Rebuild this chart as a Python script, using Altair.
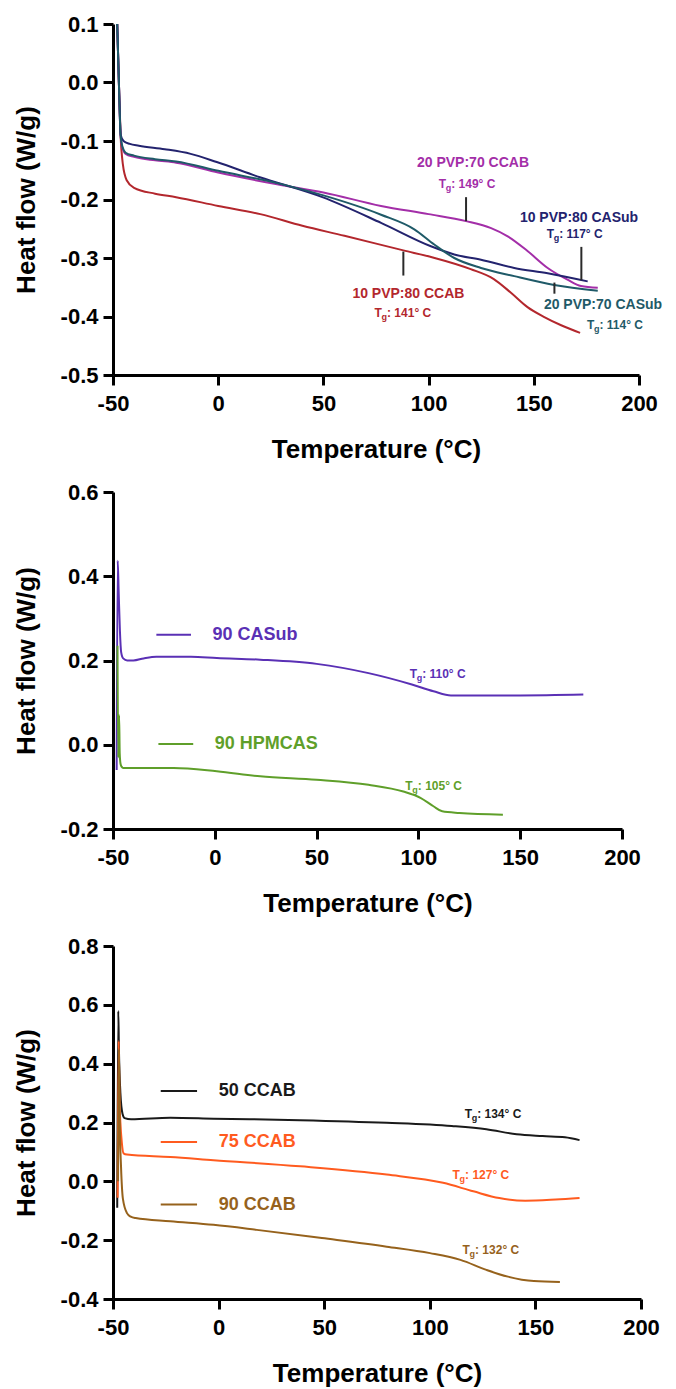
import altair as alt
import pandas as pd

FONT = "Liberation Sans"

# ---------------- Panel 1 data ----------------
p1_names = ["10 PVP:80 CCAB", "20 PVP:70 CCAB", "10 PVP:80 CASub", "20 PVP:70 CASub"]
p1_colors = ["#b3272d", "#a32ea8", "#23236e", "#1f5a68"]
red_x = [-48.0, -47.2, -46.4, -45.3, -43.5, -40, -30, -20, 0, 20, 40, 60, 88, 102, 120, 131, 139, 147, 155, 163, 172]
red_y = [0.1, 0.0, -0.09, -0.14, -0.167, -0.18, -0.19, -0.196, -0.211, -0.225, -0.245, -0.262, -0.287, -0.299, -0.319, -0.336, -0.359, -0.384, -0.401, -0.415, -0.428]
mag_x = [-48.0, -47.2, -46.4, -45.5, -44, -40, -30, -20, 0, 28, 50, 77.4, 100, 117.8, 129.7, 137.6, 147, 156.6, 166, 172.4, 180.4]
mag_y = [0.1, 0.0, -0.09, -0.112, -0.122, -0.127, -0.133, -0.137, -0.154, -0.174, -0.188, -0.211, -0.225, -0.237, -0.249, -0.263, -0.288, -0.317, -0.337, -0.348, -0.351]
navy_x = [-48.0, -47.2, -46.3, -45, -42, -37.7, -25.4, -13.1, -0.7, 19.8, 49.5, 77.4, 101.1, 112.2, 124.9, 140.7, 156.6, 175.6]
navy_y = [0.1, 0.0, -0.09, -0.1, -0.105, -0.108, -0.114, -0.122, -0.136, -0.162, -0.196, -0.24, -0.28, -0.294, -0.303, -0.317, -0.326, -0.34]
teal_x = [-48.0, -47.2, -46.4, -45.5, -44, -40, -30, -20, 0, 28, 50, 77.4, 93.2, 102.7, 112.2, 124.9, 140.7, 159.7, 180.4]
teal_y = [0.1, 0.0, -0.09, -0.11, -0.12, -0.125, -0.131, -0.135, -0.151, -0.172, -0.193, -0.226, -0.251, -0.277, -0.30, -0.317, -0.331, -0.346, -0.356]

p1_label_x = [121.1, 171.5, 90.4, 182.9]
p1_label_y = [-0.138, -0.231, -0.361, -0.381]
p1_label_text = ["20 PVP:70 CCAB", "10 PVP:80 CASub", "10 PVP:80 CCAB", "20 PVP:70 CASub"]
p1_label_col = ["#a32ea8", "#23236e", "#b3272d", "#1f5a68"]
p1_tg_x = [104.8, 156.1, 74.3, 175.3]
p1_tg_y = [-0.173, -0.259, -0.394, -0.414]
p1_tg_val = ["149", "117", "141", "114"]
p1_rule_x = [117.8, 172.6, 88.0, 159.8]
p1_rule_y1 = [-0.196, -0.281, -0.289, -0.342]
p1_rule_y2 = [-0.237, -0.338, -0.330, -0.361]

# ---------------- Panel 2 data ----------------
casub_x = [-48.2, -47.7, -47.2, -46.6, -46.0, -45.0, -43, -40, -35, -28.7, -11.7, 1, 22.3, 50, 75.5, 96.8, 107.4, 116, 128.7, 150, 181]
casub_y = [-0.06, 0.437, 0.36, 0.27, 0.22, 0.205, 0.2, 0.2, 0.205, 0.209, 0.209, 0.206, 0.202, 0.192, 0.17, 0.143, 0.127, 0.117, 0.117, 0.117, 0.119]
hpm_x = [-47.8, -47.4, -47.0, -46.7, -46.3, -45.8, -45, -41.5, -20.2, 1, 22.3, 50, 75.5, 92.6, 101, 107.4, 111.7, 120.2, 141.5]
hpm_y = [0.235, -0.03, 0.07, -0.02, -0.045, -0.052, -0.055, -0.055, -0.055, -0.063, -0.075, -0.083, -0.095, -0.111, -0.126, -0.146, -0.158, -0.162, -0.166]
p2_colors = ["#5a30b5", "#5f9f2a"]
p2_leg_text = ["90 CASub", "90 HPMCAS"]
p2_leg_x1 = [-28.7, -27.7]
p2_leg_x2 = [-11.7, -10.6]
p2_leg_y = [0.261, 0.002]
p2_leg_tx = [-1.1, 0.0]
p2_tg_x = [95.7, 93.6]
p2_tg_y = [0.168, -0.099]
p2_tg_val = ["110", "105"]

# ---------------- Panel 3 data ----------------
blk_x = [-48.0, -47.5, -47.2, -46.5, -45.5, -44.5, -41.4, -22.9, -2.4, 38.6, 79.6, 110.4, 126.8, 141.1, 153.4, 164, 170.9]
blk_y = [-0.09, 0.579, 0.45, 0.3, 0.23, 0.215, 0.211, 0.216, 0.213, 0.208, 0.199, 0.188, 0.177, 0.160, 0.154, 0.15, 0.140]
org_x = [-47.8, -47.3, -47.0, -46.5, -45.8, -45.0, -43.4, -22.9, -2.4, 38.6, 79.6, 106.3, 120.6, 132.9, 145.2, 159.6, 170.9]
org_y = [-0.056, 0.477, 0.3, 0.2, 0.13, 0.095, 0.091, 0.083, 0.072, 0.051, 0.023, -0.005, -0.034, -0.057, -0.066, -0.062, -0.057]
brn_x = [-47.6, -47.2, -46.8, -46.2, -45.3, -43.4, -41.6, -39.3, -22.9, -2.4, 18.1, 48.9, 79.6, 100.1, 114.5, 126.8, 137, 149.3, 161.6]
brn_y = [0.0, 0.45, 0.2, 0.05, -0.06, -0.108, -0.12, -0.125, -0.136, -0.148, -0.165, -0.193, -0.222, -0.244, -0.267, -0.301, -0.324, -0.339, -0.342]
p3_colors = ["#1a1a1a", "#ff5b1f", "#96621c"]
p3_leg_text = ["50 CCAB", "75 CCAB", "90 CCAB"]
p3_leg_x1 = [-27.4, -27.4, -27.4]
p3_leg_x2 = [-10.2, -10.2, -10.2]
p3_leg_y = [0.307, 0.134, -0.079]
p3_leg_tx = [0.04, 0.04, 0.04]
p3_tg_x = [116.5, 110.8, 115.5]
p3_tg_y = [0.228, 0.020, -0.233]
p3_tg_val = ["134", "127", "132"]

x_ticks = [-50, 0, 50, 100, 150, 200]
LBL = "(datum.value < 0 ? '-' : '') + format(abs(datum.value), '%s')"


def curves_df(xs, ys, names, cols):
    rows = []
    for xv, yv, n, c in zip(xs, ys, names, cols):
        for i, (a, b) in enumerate(zip(xv, yv)):
            rows.append({"x": a, "y": b, "s": n, "col": c, "i": i})
    return pd.DataFrame(rows)


def enc_x(field):
    return alt.X(field + ":Q", scale=alt.Scale(domain=[-50, 200], nice=False, zero=False),
                 axis=alt.Axis(values=x_ticks, title="Temperature (°C)", labelExpr=LBL % "d",
                               labelFlush=False, labelOverlap=False, labelPadding=8, titlePadding=22))


def enc_y(field, ydom, yvals):
    return alt.Y(field + ":Q", scale=alt.Scale(domain=ydom, nice=False, zero=False),
                 axis=alt.Axis(values=yvals, title="Heat flow (W/g)", labelExpr=LBL % ".1f",
                               labelFlush=False, labelOverlap=False, labelPadding=5, titlePadding=21))


def tg_layers(tx, ty, tv, tc, ydom, yvals):
    df = pd.DataFrame({"x": tx, "y": ty, "v": [": " + v + "° C" for v in tv], "col": tc})
    common = dict(font=FONT, fontWeight="bold", align="left", baseline="middle")
    t1 = alt.Chart(df).mark_text(fontSize=12, **common).encode(
        x=enc_x("x"), y=enc_y("y", ydom, yvals), color=alt.Color("col:N", scale=None), text=alt.value("T"))
    t2 = alt.Chart(df).mark_text(fontSize=9, dx=7, dy=4, **common).encode(
        x=enc_x("x"), y=enc_y("y", ydom, yvals), color=alt.Color("col:N", scale=None), text=alt.value("g"))
    t3 = alt.Chart(df).mark_text(fontSize=12, dx=12.5, **common).encode(
        x=enc_x("x"), y=enc_y("y", ydom, yvals), color=alt.Color("col:N", scale=None), text="v:N")
    return [t1, t2, t3]


def line_layer(df, ydom, yvals):
    return alt.Chart(df).mark_line(strokeWidth=2, interpolate="monotone").encode(
        x=enc_x("x"), y=enc_y("y", ydom, yvals), color=alt.Color("col:N", scale=None),
        detail="s:N", order="i:Q")


# Panel 1
yd1, yv1 = [-0.5, 0.1], [-0.5, -0.4, -0.3, -0.2, -0.1, 0.0, 0.1]
df1 = curves_df([red_x, mag_x, navy_x, teal_x], [red_y, mag_y, navy_y, teal_y], p1_names, p1_colors)
lab1 = pd.DataFrame({"x": p1_label_x, "y": p1_label_y, "t": p1_label_text, "col": p1_label_col})
rule1 = pd.DataFrame({"x": p1_rule_x, "y": p1_rule_y1, "y2": p1_rule_y2})
p1 = alt.layer(
    line_layer(df1, yd1, yv1),
    alt.Chart(rule1).mark_rule(strokeWidth=2, color="#2a2a2a").encode(
        x=enc_x("x"), y=enc_y("y", yd1, yv1), y2="y2:Q"),
    alt.Chart(lab1).mark_text(font=FONT, fontWeight="bold", fontSize=14, align="center", baseline="middle").encode(
        x=enc_x("x"), y=enc_y("y", yd1, yv1), color=alt.Color("col:N", scale=None), text="t:N"),
    *tg_layers(p1_tg_x, p1_tg_y, p1_tg_val, p1_label_col, yd1, yv1),
).properties(width=526, height=351)

# Panel 2
yd2, yv2 = [-0.2, 0.6], [-0.2, 0.0, 0.2, 0.4, 0.6]
df2 = curves_df([casub_x, hpm_x], [casub_y, hpm_y], p2_leg_text, p2_colors)
leg2 = pd.DataFrame({"x": p2_leg_x1, "x2": p2_leg_x2, "y": p2_leg_y, "tx": p2_leg_tx, "t": p2_leg_text, "col": p2_colors})
p2 = alt.layer(
    line_layer(df2, yd2, yv2),
    alt.Chart(leg2).mark_rule(strokeWidth=2).encode(
        x=enc_x("x"), x2="x2:Q", y=enc_y("y", yd2, yv2), color=alt.Color("col:N", scale=None)),
    alt.Chart(leg2).mark_text(font=FONT, fontWeight="bold", fontSize=18, align="left", baseline="middle").encode(
        x=enc_x("tx"), y=enc_y("y", yd2, yv2), color=alt.Color("col:N", scale=None), text="t:N"),
    *tg_layers(p2_tg_x, p2_tg_y, p2_tg_val, p2_colors, yd2, yv2),
).properties(width=509, height=337)

# Panel 3
yd3, yv3 = [-0.4, 0.8], [-0.4, -0.2, 0.0, 0.2, 0.4, 0.6, 0.8]
df3 = curves_df([blk_x, org_x, brn_x], [blk_y, org_y, brn_y], p3_leg_text, p3_colors)
leg3 = pd.DataFrame({"x": p3_leg_x1, "x2": p3_leg_x2, "y": p3_leg_y, "tx": p3_leg_tx, "t": p3_leg_text, "col": p3_colors})
p3 = alt.layer(
    line_layer(df3, yd3, yv3),
    alt.Chart(leg3).mark_rule(strokeWidth=2).encode(
        x=enc_x("x"), x2="x2:Q", y=enc_y("y", yd3, yv3), color=alt.Color("col:N", scale=None)),
    alt.Chart(leg3).mark_text(font=FONT, fontWeight="bold", fontSize=18, align="left", baseline="middle").encode(
        x=enc_x("tx"), y=enc_y("y", yd3, yv3), color=alt.Color("col:N", scale=None), text="t:N"),
    *tg_layers(p3_tg_x, p3_tg_y, p3_tg_val, p3_colors, yd3, yv3),
).properties(width=528, height=353)

chart = alt.vconcat(p1, p2, p3, spacing=117, bounds="flush").configure_axis(
    domainColor="black", domainWidth=3, tickColor="black", tickWidth=3, tickSize=10,
    labelFont=FONT, labelFontSize=22, labelFontWeight="bold", labelColor="black",
    titleFont=FONT, titleFontSize=26, titleFontWeight="bold", titleColor="black", grid=False,
).configure_view(stroke=None).properties(background="white")

chart.save("out.html", embed_options={"renderer": "svg", "actions": False})
